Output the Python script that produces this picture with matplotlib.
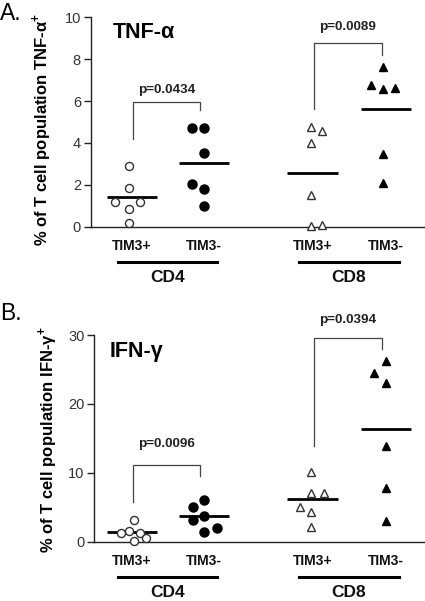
import matplotlib
matplotlib.use("Agg")
import matplotlib.pyplot as plt
import matplotlib.transforms as mtransforms

plt.rcParams['font.family'] = ['Liberation Sans', 'DejaVu Sans']
plt.rcParams['mathtext.fontset'] = 'custom'
plt.rcParams['mathtext.rm'] = 'Liberation Sans:bold'
plt.rcParams['mathtext.bf'] = 'Liberation Sans:bold'

# group labels
cells = ['CD4', 'CD8']
subsets = ['TIM3+', 'TIM3-']

# panel A: TNF-alpha (% of T cell population)
tnf_cd4_pos = [2.92, 1.84, 1.2, 1.2, 0.84, 0.18]
tnf_cd4_neg = [4.73, 4.73, 3.54, 2.03, 1.8, 1.0]
tnf_cd8_pos = [4.78, 4.57, 3.98, 1.52, 0.05, 0.1]
tnf_cd8_neg = [7.65, 6.76, 6.57, 6.63, 3.46, 2.08]
tnf_means = [1.41, 3.03, 2.56, 5.6]
tnf_pvals = ['p=0.0434', 'p=0.0089']

# panel B: IFN-gamma (% of T cell population)
ifn_cd4_pos = [3.1, 1.3, 1.54, 1.3, 0.58, 0.1]
ifn_cd4_neg = [6.03, 5.07, 3.72, 3.09, 2.03, 1.45]
ifn_cd8_pos = [10.1, 7.0, 7.0, 5.07, 4.3, 2.17]
ifn_cd8_neg = [26.2, 24.5, 23.0, 13.9, 7.8, 3.0]
ifn_means = [1.4, 3.72, 6.13, 16.4]
ifn_pvals = ['p=0.0096', 'p=0.0394']

# horizontal scatter of points inside each group (layout only)
tnf_jitter = [[-0.05, -0.05, -0.24, 0.11, -0.05, -0.05],
              [-0.17, 0, 0, -0.17, 0, 0],
              [-0.03, 0.14, -0.03, -0.03, -0.03, 0.14],
              [-0.04, -0.21, -0.04, 0.13, -0.04, -0.04]]
ifn_jitter = [[0.03, -0.16, -0.05, 0.11, 0.2, 0.03],
              [0, -0.16, 0, -0.16, 0.19, 0],
              [-0.02, -0.02, 0.16, -0.18, -0.02, -0.02],
              [0, -0.18, 0, 0, 0, 0]]

positions = [1, 2.03, 3.58, 4.63]
styles = [dict(marker='o', mfc='white', mec='#333333', ms=5.8, mew=1.0),
          dict(marker='o', mfc='black', mec='black', ms=6.5),
          dict(marker='^', mfc='white', mec='#333333', ms=6, mew=1.0),
          dict(marker='^', mfc='black', mec='black', ms=6.3)]

fig = plt.figure(figsize=(4.25, 6.01), dpi=100)


def panel(rect, xleft, groups, jitter, means, pvals, ymax, yticks,
          bracket_y, title, ylabel, letter, letter_y, title_xy, ylabel_xy):
    ax = fig.add_axes(rect)
    ax.set_xlim(xleft, 5.171)
    ax.set_ylim(0, ymax)
    for sp in ['top', 'right']:
        ax.spines[sp].set_visible(False)
    for sp in ['left', 'bottom']:
        ax.spines[sp].set_color('#222222')
        ax.spines[sp].set_linewidth(1.0)
    ax.set_xticks([])
    ax.set_yticks(yticks)
    ax.tick_params(axis='y', length=5, width=1, colors='#222222',
                   labelsize=10.5, labelcolor='#333333', pad=2)

    for i, vals in enumerate(groups):
        xs = [positions[i] + j for j in jitter[i]]
        ax.plot(xs, vals, ls='none', clip_on=False, zorder=3, **styles[i])
        ax.hlines(means[i], positions[i] - 0.36, positions[i] + 0.36,
                  color='black', lw=2, zorder=2)

    # significance brackets
    for k in range(2):
        xl = positions[2 * k] + 0.02
        xr = positions[2 * k + 1] - 0.06
        yl, ytop, yr, ytext = bracket_y[k]
        ax.plot([xl, xl, xr, xr], [yl, ytop, ytop, yr], color='#444444',
                lw=0.9, clip_on=False)
        ax.text((xl + xr) / 2, ytext, pvals[k], ha='center', va='center',
                fontsize=9.7, fontweight='bold', color='#222222')

    # category labels under the axis
    trans = mtransforms.blended_transform_factory(ax.transData, ax.transAxes)
    for i, p in enumerate(positions):
        ax.text(p, 0, subsets[i % 2], ha='center', va='center',
                fontsize=10, fontweight='bold', color='#111111',
                transform=trans + mtransforms.ScaledTranslation(0, -14 / 72, fig.dpi_scale_trans))
    for k in range(2):
        x0 = positions[2 * k] - 0.2
        x1 = positions[2 * k + 1] + 0.18
        ax.plot([x0, x1], [0, 0], color='black', lw=2.2, clip_on=False,
                transform=trans + mtransforms.ScaledTranslation(0, -25.5 / 72, fig.dpi_scale_trans))
        ax.text((x0 + x1) / 2, 0, cells[k], ha='center', va='center',
                fontsize=12.5, fontweight='bold', color='#111111',
                transform=trans + mtransforms.ScaledTranslation(0, -36.5 / 72, fig.dpi_scale_trans))

    fig.text(title_xy[0] / 425, 1 - title_xy[1] / 601, title, ha='left',
             va='center', fontsize=15.5, fontweight='bold')
    fig.text(ylabel_xy[0] / 425, 1 - ylabel_xy[1] / 601, ylabel, rotation=90,
             ha='center', va='center', fontsize=12, fontweight='bold')
    fig.text(0.0, 1 - letter_y / 601, letter, ha='left', va='center',
             fontsize=16.5)
    return ax


panel([90.7 / 425, (601 - 226.7) / 601, 333.3 / 425, 209.4 / 601], 0.41,
      [tnf_cd4_pos, tnf_cd4_neg, tnf_cd8_pos, tnf_cd8_neg], tnf_jitter,
      tnf_means, tnf_pvals, 10, [0, 2, 4, 6, 8, 10],
      [(4.19, 5.96, 5.57, 6.53), (5.62, 8.77, 8.2, 9.54)],
      'TNF-α', '% of T cell population TNF-α$^{+}$', 'A.', 14,
      (113, 33), (42, 129))

panel([94.3 / 425, (601 - 541.7) / 601, 329.7 / 425, 206.7 / 601], 0.461,
      [ifn_cd4_pos, ifn_cd4_neg, ifn_cd8_pos, ifn_cd8_neg], ifn_jitter,
      ifn_means, ifn_pvals, 30, [0, 10, 20, 30],
      [(5.74, 11.2, 9.5, 14.25), (13.86, 29.6, 27.9, 32.2)],
      'IFN-γ', '% of T cell population IFN-γ$^{+}$', 'B.', 313,
      (110, 352), (48, 440))

fig.savefig('out.png', dpi=100)
